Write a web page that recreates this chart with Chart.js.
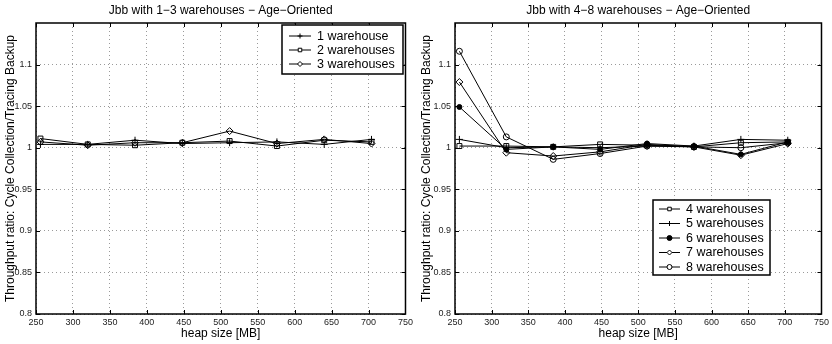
<!DOCTYPE html>
<html>
<head>
<meta charset="utf-8">
<script src="https://cdn.jsdelivr.net/npm/chart.js@4.4.1/dist/chart.umd.min.js"></script>
<style>
  html, body { margin: 0; padding: 0; background: #fff; }
  #wrap { position: relative; width: 832px; height: 344px; }
  canvas { position: absolute; top: 0; }
</style>
</head>
<body>
<div id="wrap">
  <canvas id="leftChart" width="416" height="344" style="left:0"></canvas>
  <canvas id="rightChart" width="416" height="344" style="left:416px"></canvas>
</div>
<script>
// Data
const heapSizes = [256, 320, 384, 448, 512, 576, 640, 704];

const wh1 = [1.004, 1.004, 1.009, 1.005, 1.006, 1.007, 1.004, 1.010];
const wh2 = [1.011, 1.004, 1.003, 1.006, 1.008, 1.002, 1.009, 1.007];
const wh3 = [1.007, 1.003, 1.006, 1.006, 1.020, 1.005, 1.010, 1.005];

const wh4 = [1.002, 1.002, 1.001, 1.004, 1.003, 1.001, 1.006, 1.007];
const wh5 = [1.010, 1.000, 1.001, 1.000, 1.002, 1.002, 1.010, 1.009];
const wh6 = [1.049, 0.998, 1.001, 0.998, 1.005, 1.002, 0.992, 1.007];
const wh7 = [1.079, 0.994, 0.990, 0.995, 1.004, 1.001, 0.991, 1.005];
const wh8 = [1.116, 1.013, 0.986, 0.993, 1.002, 1.001, 1.000, 1.006];

const xTicks = [250, 300, 350, 400, 450, 500, 550, 600, 650, 700, 750];
const yTicks = [0.8, 0.85, 0.9, 0.95, 1, 1.05, 1.1];
const yTickLabels = ['0.8', '0.85', '0.9', '0.95', '1', '1.05', '1.1'];

const FONT = "'Liberation Sans', Arial, Helvetica, sans-serif";

// Build a line dataset
function series(label, values, style, fill) {
    return {
        label: label,
        data: heapSizes.map((x, i) => ({ x: x, y: values[i] })),
        borderColor: '#000',
        borderWidth: 1,
        pointStyle: style,
        pointRadius: style === 'circle' ? (fill ? 2.5 : 3) : 3.5,
        pointBorderColor: '#000',
        pointBackgroundColor: fill ? '#000' : 'rgba(0,0,0,0)',
        pointBorderWidth: 1,
        tension: 0
    };
}

// Draw MATLAB-like box, inward ticks, title and boxed legend
const matlabPlugin = {
    id: 'matlab',
    afterDraw(chart, args, opts) {
        const { ctx, chartArea: a, scales } = chart;
        ctx.save();

        // inward tick marks on all four sides
        ctx.strokeStyle = '#000';
        ctx.lineWidth = 1;
        ctx.beginPath();
        xTicks.forEach(v => {
            const px = Math.round(scales.x.getPixelForValue(v)) + 0.5;
            ctx.moveTo(px, a.bottom); ctx.lineTo(px, a.bottom - 4);
            ctx.moveTo(px, a.top); ctx.lineTo(px, a.top + 4);
        });
        yTicks.forEach(v => {
            const py = Math.round(scales.y.getPixelForValue(v)) + 0.5;
            ctx.moveTo(a.left, py); ctx.lineTo(a.left + 4, py);
            ctx.moveTo(a.right, py); ctx.lineTo(a.right - 4, py);
        });
        ctx.stroke();

        // frame
        ctx.lineWidth = 1.5;
        ctx.strokeRect(a.left, a.top, a.right - a.left, a.bottom - a.top);

        // title
        ctx.fillStyle = '#000';
        ctx.font = '12px ' + FONT;
        ctx.textAlign = 'center';
        ctx.textBaseline = 'middle';
        ctx.fillText(opts.title, (a.left + a.right) / 2, 11);

        // legend
        const L = opts.legend;
        ctx.fillStyle = '#fff';
        ctx.fillRect(L.x, L.y, L.w, L.h);
        ctx.lineWidth = 1.5;
        ctx.strokeStyle = '#000';
        ctx.strokeRect(L.x, L.y, L.w, L.h);
        ctx.font = L.fontSize + 'px ' + FONT;
        ctx.textAlign = 'left';
        chart.data.datasets.forEach((ds, i) => {
            const y = L.y + L.first + i * L.rowH;
            ctx.lineWidth = 1;
            ctx.strokeStyle = '#000';
            ctx.beginPath();
            ctx.moveTo(L.x0, y); ctx.lineTo(L.x1, y);
            ctx.stroke();
            ctx.fillStyle = ds.pointBackgroundColor === '#000' ? '#000' : '#fff';
            Chart.helpers.drawPoint(ctx, {
                pointStyle: ds.pointStyle,
                radius: 2.5,
                rotation: 0,
                borderWidth: 1
            }, (L.x0 + L.x1) / 2, y);
            ctx.fillStyle = '#000';
            ctx.fillText(ds.label, L.textX, y + 0.5);
        });
        ctx.restore();
    }
};

function makeChart(id, title, datasets, yWidth, legend) {
    return new Chart(document.getElementById(id), {
        type: 'line',
        data: { datasets: datasets },
        options: {
            responsive: false,
            animation: false,
            devicePixelRatio: 1,
            layout: { padding: { top: 23, right: 10, left: 0, bottom: 0 } },
            plugins: {
                legend: { display: false },
                tooltip: { enabled: false },
                matlab: { title: title, legend: legend }
            },
            scales: {
                x: {
                    type: 'linear',
                    min: 250,
                    max: 750,
                    afterBuildTicks: s => { s.ticks = xTicks.map(v => ({ value: v })); },
                    afterFit: s => { s.height = 30; },
                    grid: { color: '#9a9a9a', drawTicks: false },
                    border: { display: false, dash: [1, 3] },
                    ticks: { color: '#222', padding: 3, maxRotation: 0, font: { family: FONT, size: 9 } },
                    title: { display: true, text: 'heap size [MB]', color: '#000', padding: { top: 0, bottom: 3 }, font: { family: FONT, size: 12 } }
                },
                y: {
                    type: 'linear',
                    min: 0.8,
                    max: 1.15,
                    afterBuildTicks: s => { s.ticks = yTicks.map(v => ({ value: v })); },
                    afterFit: s => { s.width = yWidth; },
                    grid: { color: '#9a9a9a', drawTicks: false },
                    border: { display: false, dash: [1, 3] },
                    ticks: {
                        color: '#222',
                        padding: 4,
                        font: { family: FONT, size: 9 },
                        callback: (v, i) => yTickLabels[i]
                    },
                    title: { display: true, text: 'Throughput ratio: Cycle Collection/Tracing Backup', color: '#000', padding: { top: 3 }, font: { family: FONT, size: 12 } }
                }
            }
        },
        plugins: [matlabPlugin]
    });
}

makeChart('leftChart', 'Jbb with 1\u22123 warehouses \u2212 Age\u2212Oriented', [
    series('1 warehouse', wh1, 'cross', false),
    series('2 warehouses', wh2, 'rect', false),
    series('3 warehouses', wh3, 'rectRot', false)
], 36, { x: 282, y: 25, w: 121, h: 49, first: 11, rowH: 14, x0: 289, x1: 311, textX: 317, fontSize: 12.5 });

makeChart('rightChart', 'Jbb with 4\u22128 warehouses \u2212 Age\u2212Oriented', [
    series('4 warehouses', wh4, 'rect', false),
    series('5 warehouses', wh5, 'cross', false),
    series('6 warehouses', wh6, 'circle', true),
    series('7 warehouses', wh7, 'rectRot', false),
    series('8 warehouses', wh8, 'circle', false)
], 39, { x: 237, y: 200, w: 117, h: 75, first: 9, rowH: 14.5, x0: 243, x1: 264, textX: 270, fontSize: 12.5 });
</script>
</body>
</html>
